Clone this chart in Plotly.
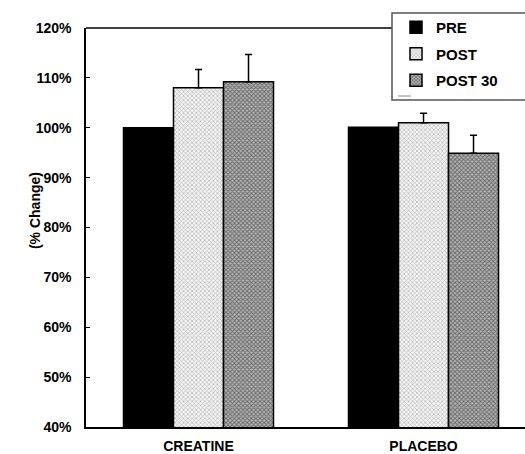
import plotly.graph_objects as go

groups = ["CREATINE", "PLACEBO"]
series = ["PRE", "POST", "POST 30"]
pre_vals = [100.0, 100.1]
post_vals = [108.0, 101.0]
post30_vals = [109.2, 94.9]
pre_err = [0, 0]
post_err = [3.7, 1.9]
post30_err = [5.5, 3.6]
ytick_vals = [40, 50, 60, 70, 80, 90, 100, 110, 120]
ytick_text = ["40%", "50%", "60%", "70%", "80%", "90%", "100%", "110%", "120%"]

FONT = "Liberation Sans, Arial, sans-serif"

styles = [
    dict(color="black", pattern=None),
    dict(color="white", pattern=dict(shape="x", fgcolor="#7a7a7a", bgcolor="#f4f4f4", size=3, solidity=0.4, fillmode="overlay")),
    dict(color="#b0b0b0", pattern=dict(shape="x", fgcolor="#1e1e1e", bgcolor="#b4b4b4", size=3, solidity=0.5, fillmode="overlay")),
]

fig = go.Figure()
for i, (name, vals, errs) in enumerate(zip(series, [pre_vals, post_vals, post30_vals], [pre_err, post_err, post30_err])):
    st = styles[i]
    marker = dict(color=st["color"], line=dict(color="black", width=1.5))
    if st["pattern"]:
        marker["pattern"] = st["pattern"]
    fig.add_trace(go.Bar(
        x=groups, y=vals, name=name, marker=marker, legendgroup=name,
        error_y=dict(type="data", array=errs, arrayminus=[0] * len(errs), symmetric=False,
                     visible=any(e > 0 for e in errs), color="black", thickness=1.5, width=3.5),
    ))

def px_x(p):
    return (p - 86) / 439.0

def px_y(p):
    return (427 - p) / 399.0

fig.update_layout(
    width=525, height=454,
    margin=dict(l=86, r=0, t=28, b=27, autoexpand=False),
    paper_bgcolor="white", plot_bgcolor="white",
    barmode="group", bargap=1/3, bargroupgap=0,
    font=dict(family=FONT, color="black"),
    showlegend=True,
    legend=dict(x=px_x(396), y=px_y(11), xanchor="left", yanchor="top",
                font=dict(family=FONT, size=15, weight="bold", color="black"),
                bgcolor="rgba(0,0,0,0)", borderwidth=0, tracegroupgap=4,
                traceorder="grouped"),
)
fig.update_xaxes(range=[-0.5, 1.451], showline=True, linecolor="black", linewidth=1.5,
                 ticks="", tickfont=dict(family=FONT, size=14, weight="bold"),
                 ticklabelstandoff=5, showgrid=False, zeroline=False)
fig.update_yaxes(range=[40, 120], tickvals=ytick_vals, ticktext=ytick_text,
                 showline=True, linecolor="black", linewidth=1.5,
                 ticks="inside", ticklen=4, tickcolor="black",
                 tickfont=dict(family=FONT, size=14, weight="bold"),
                 ticklabelstandoff=10, showgrid=False, zeroline=False)

fig.add_annotation(text="(% Change)", textangle=-90, xref="paper", yref="y",
                   x=px_x(35), y=83.3, xanchor="center", yanchor="middle", showarrow=False,
                   font=dict(family=FONT, size=14, weight="bold", color="black"))

fig.add_shape(type="line", xref="paper", yref="paper", x0=0, x1=px_x(392), y0=1, y1=1,
              line=dict(color="black", width=1.5))
fig.add_shape(type="rect", xref="paper", yref="paper", x0=px_x(392), x1=px_x(535),
              y0=px_y(100), y1=px_y(13), fillcolor="white",
              line=dict(color="#555555", width=1.5), layer="above")
fig.add_shape(type="line", xref="paper", yref="paper", x0=px_x(398), x1=px_x(411),
              y0=px_y(96), y1=px_y(96), line=dict(color="#888888", width=1), layer="above")

fig.write_html("out.html", config={"displayModeBar": False},
               post_script="document.body.style.margin='0px';document.body.style.overflow='hidden';")
